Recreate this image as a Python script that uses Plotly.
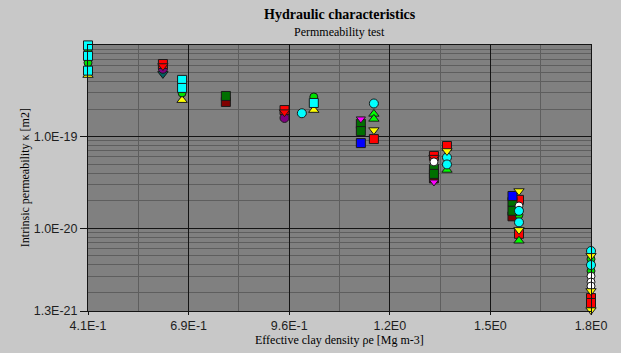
import plotly.graph_objects as go

# ---- axis ticks ----
x_tickvals = [0.41, 0.688, 0.966, 1.244, 1.522, 1.8]
x_ticktext = ["4.1E-1", "6.9E-1", "9.6E-1", "1.2E0", "1.5E0", "1.8E0"]
x_minor = [0.549, 0.827, 1.105, 1.383, 1.661]
y_tickvals = [1e-19, 1e-20, 1.25e-21]
y_ticktext = ["1.0E-19", "1.0E-20", "1.3E-21"]

# ---- data series (effective clay density, intrinsic permeability) ----
cyan_sq_x = [0.41, 0.41, 0.41, 0.670, 0.670, 1.034]
cyan_sq_y = [9.9e-19, 7.6e-19, 5.25e-19, 4.16e-19, 3.4e-19, 2.33e-19]

green_ci_x = [0.41, 0.41, 0.670, 1.034, 1.601, 1.8, 1.8]
green_ci_y = [8.85e-19, 6.4e-19, 3.0e-19, 2.71e-19, 1.4e-20, 4.6e-21, 3.42e-21]

yellow_tu_x = [0.41, 0.670, 1.034]
yellow_tu_y = [4.7e-19, 2.5e-19, 1.95e-19]

teal_td_x = [0.617]
teal_td_y = [4.84e-19]

purple_ci_x = [0.617, 0.953]
purple_ci_y = [5.5e-19, 1.6e-19]

red_sq_x = [0.617, 0.953, 1.200, 1.366, 1.402, 1.601, 1.601, 1.8, 1.8]
red_sq_y = [6.2e-19, 1.95e-19, 9.4e-20, 6.16e-20, 7.9e-20, 2.04e-20, 8.7e-21, 1.73e-21, 1.53e-21]

red_td_x = [0.617, 0.953, 1.366]
red_td_y = [5.9e-19, 1.85e-19, 5.9e-20]

dkred_sq_x = [0.791, 1.366, 1.583]
dkred_sq_y = [2.39e-19, 3.5e-20, 1.35e-20]

dkgreen_sq_x = [0.791, 1.164, 1.164, 1.366, 1.366, 1.583, 1.583]
dkgreen_sq_y = [2.78e-19, 1.38e-19, 1.15e-19, 4.44e-20, 3.92e-20, 1.94e-20, 1.55e-20]

magenta_td_x = [1.164, 1.366]
magenta_td_y = [1.56e-19, 3.2e-20]

blue_sq_x = [1.164, 1.583]
blue_sq_y = [8.5e-20, 2.25e-20]

white_ci_x = [1.366, 1.601, 1.8, 1.8, 1.8]
white_ci_y = [5.3e-20, 1.75e-20, 3.0e-21, 2.59e-21, 2.34e-21]

green_tu_x = [1.200, 1.200, 1.402, 1.601]
green_tu_y = [1.77e-19, 1.56e-19, 4.33e-20, 7.3e-21]

cyan_ci_x = [1.001, 1.200, 1.402, 1.402, 1.601, 1.601, 1.8, 1.8]
cyan_ci_y = [1.8e-19, 2.3e-19, 5.93e-20, 4.97e-20, 1.55e-20, 1.16e-20, 5.65e-21, 3.97e-21]

yellow_td_x = [1.200, 1.402, 1.601, 1.601, 1.8, 1.8, 1.8]
yellow_td_y = [1.18e-19, 6.98e-20, 2.55e-20, 9.6e-21, 5.0e-21, 2.07e-21, 1.28e-21]

series = [
    (dkred_sq_x, dkred_sq_y, "#800000", "square", 9),
    (teal_td_x, teal_td_y, "#006060", "triangle-down", 9),
    (yellow_tu_x, yellow_tu_y, "#ffff00", "triangle-up", 9),
    (green_ci_x, green_ci_y, "#00e000", "circle", 8),
    (cyan_sq_x, cyan_sq_y, "#00ffff", "square", 9),
    (purple_ci_x, purple_ci_y, "#800080", "circle", 9),
    (red_sq_x, red_sq_y, "#ff0000", "square", 9),
    (red_td_x, red_td_y, "#ff0000", "triangle-down", 9),
    (dkgreen_sq_x, dkgreen_sq_y, "#007000", "square", 9),
    (magenta_td_x, magenta_td_y, "#ff00ff", "triangle-down", 8),
    (blue_sq_x, blue_sq_y, "#0000ff", "square", 9),
    (white_ci_x, white_ci_y, "#ffffff", "circle", 8),
    (green_tu_x, green_tu_y, "#00ff00", "triangle-up", 9),
    (cyan_ci_x, cyan_ci_y, "#00ffff", "circle", 9),
    (yellow_td_x, yellow_td_y, "#ffff00", "triangle-down", 9),
]

fig = go.Figure()
for xs, ys, col, sym, sz in series:
    fig.add_trace(go.Scatter(
        x=xs, y=ys, mode="markers", cliponaxis=False, showlegend=False,
        marker=dict(color=col, symbol=sym, size=sz,
                    line=dict(color="#1a1a1a", width=1)),
    ))

tick_font = dict(family="Liberation Sans, Arial, sans-serif", size=12.5, color="#1e1e1e")
serif = "Liberation Serif, Times New Roman, serif"

fig.update_layout(
    width=621, height=353,
    margin=dict(l=88, r=30, t=45, b=42),
    paper_bgcolor="#c8c8c8", plot_bgcolor="#808080",
    xaxis=dict(
        range=[0.41, 1.8], tickmode="array", tickvals=x_tickvals, ticktext=x_ticktext,
        showgrid=True, gridcolor="#141414", gridwidth=1,
        ticks="outside", ticklen=3, tickcolor="#141414",
        showline=True, linecolor="#141414", linewidth=1, mirror=True,
        zeroline=False, tickfont=tick_font,
        minor=dict(tickmode="array", tickvals=x_minor, showgrid=True,
                   gridcolor="#5e5e5e", ticks=""),
    ),
    yaxis=dict(
        type="log", range=[-20.903, -18.0], tickmode="array",
        tickvals=y_tickvals, ticktext=y_ticktext,
        showgrid=True, gridcolor="#141414", gridwidth=1,
        ticks="outside", ticklen=7, tickcolor="#141414",
        showline=True, linecolor="#141414", linewidth=1, mirror=True,
        zeroline=False, tickfont=tick_font,
        minor=dict(tickmode="array",
                   tickvals=[k * 10.0 ** n for n in (-21, -20, -19) for k in range(2, 10)],
                   showgrid=True, gridcolor="#5e5e5e", ticks=""),
    ),
    annotations=[
        dict(text="<b>Hydraulic characteristics</b>", xref="paper", yref="paper",
             x=0.5, y=1.115, xanchor="center", yanchor="middle", showarrow=False,
             font=dict(family=serif, size=14, color="#000000")),
        dict(text="Permmeability test", xref="paper", yref="paper",
             x=0.5, y=1.049, xanchor="center", yanchor="middle", showarrow=False,
             font=dict(family=serif, size=12, color="#000000")),
        dict(text="Effective clay density ρe [Mg m-3]", xref="paper", yref="paper",
             x=0.5, y=-0.11, xanchor="center", yanchor="middle", showarrow=False,
             font=dict(family=serif, size=12, color="#000000")),
        dict(text="Intrinsic permeability κ [m2]", xref="paper", yref="paper",
             x=-0.125, y=0.5, xanchor="center", yanchor="middle", showarrow=False,
             textangle=-90, font=dict(family=serif, size=12, color="#000000")),
    ],
)

fig.write_html("out.html")
